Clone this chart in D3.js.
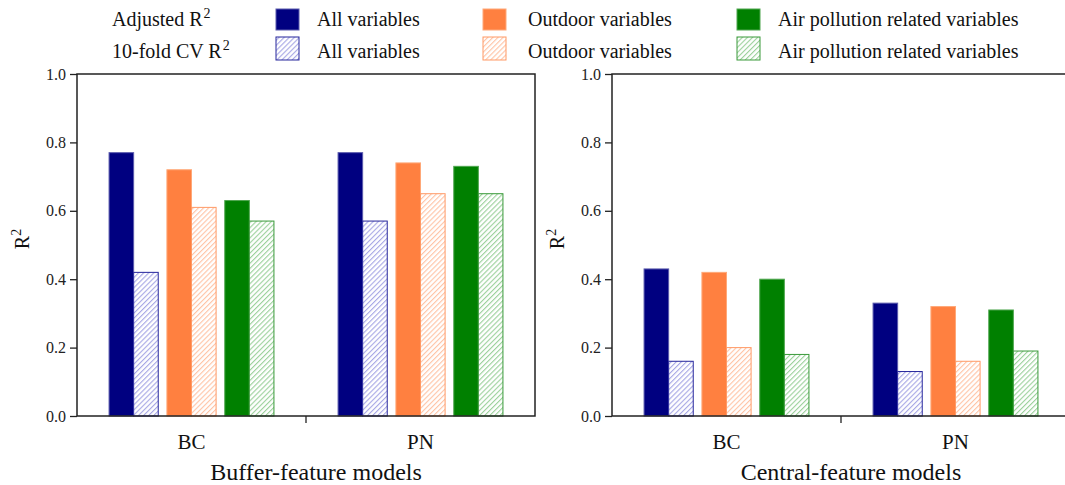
<!DOCTYPE html>
<html>
<head>
<meta charset="utf-8">
<script src="https://cdn.jsdelivr.net/npm/d3@7"></script>
<style>
  body { margin: 0; background: #fff; }
  svg text { font-family: "Liberation Serif", "Times New Roman", serif !important; }
</style>
</head>
<body>
<div id="root"></div>
<script>
const categories = ["BC", "PN"];
const seriesNames = ["All variables", "Outdoor variables", "Air pollution related variables"];
const yTicks = [0, 0.2, 0.4, 0.6, 0.8, 1.0];

// one row per category (BC, PN), values in series order
const bufferAdjusted = [[0.77, 0.72, 0.63], [0.77, 0.74, 0.73]];
const bufferCV = [[0.42, 0.61, 0.57], [0.57, 0.65, 0.65]];
const centralAdjusted = [[0.43, 0.42, 0.40], [0.33, 0.32, 0.31]];
const centralCV = [[0.16, 0.20, 0.18], [0.13, 0.16, 0.19]];

const solidColors = ["#000080", "#ff8040", "#008000"];
const solidStroke = ["#5a5aad", "#ffa878", "#4fa64f"];
const hatchColors = ["#9c9ce2", "#ffbc9a", "#8fcc8f"];
const hatchStroke = ["#26269c", "#ff9a66", "#3a9a3a"];

const serif = "'Liberation Serif', 'Times New Roman', serif";

const width = 1065,
  height = 485;

const svg = d3
  .select("#root")
  .append("svg")
  .attr("width", width)
  .attr("height", height)
  .attr("font-family", serif)
  .attr("viewBox", [0, 0, width, height])
  .style("display", "block");

// hatch patterns "///"
const defs = svg.append("defs");
hatchColors.forEach((c, i) => {
  const p = defs
    .append("pattern")
    .attr("id", `hatch-${i}`)
    .attr("patternUnits", "userSpaceOnUse")
    .attr("width", 3.6)
    .attr("height", 3.6)
    .attr("patternTransform", "rotate(45)");
  p.append("rect").attr("width", 3.6).attr("height", 3.6).attr("fill", "#fff");
  p.append("line")
    .attr("x1", 0.6)
    .attr("y1", 0)
    .attr("x2", 0.6)
    .attr("y2", 3.6)
    .attr("stroke", c)
    .attr("stroke-width", 1);
});

function drawPanel(left, title, adjusted, cv) {
  const top = 74,
    plotW = 458,
    plotH = 342;

  const x = d3
    .scaleBand()
    .domain(categories)
    .range([0, plotW])
    .paddingInner(0.28)
    .paddingOuter(0.14);
  const xs = d3
    .scaleBand()
    .domain(d3.range(seriesNames.length))
    .range([0, x.bandwidth()])
    .paddingInner(0.15)
    .paddingOuter(0);
  const y = d3.scaleLinear().domain([0, 1]).range([plotH, 0]);

  const g = svg.append("g").attr("transform", `translate(${left}, ${top})`);

  const rows = [];
  categories.forEach((cat, ci) => {
    seriesNames.forEach((s, si) => {
      rows.push({ cat, si, adj: adjusted[ci][si], cv: cv[ci][si] });
    });
  });
  const half = xs.bandwidth() / 2;

  g.append("g")
    .selectAll("rect")
    .data(rows)
    .join("rect")
    .attr("x", (d) => x(d.cat) + xs(d.si))
    .attr("y", (d) => y(d.adj))
    .attr("width", half)
    .attr("height", (d) => y(0) - y(d.adj))
    .attr("fill", (d) => solidColors[d.si])
    .attr("stroke", (d) => solidStroke[d.si])
    .attr("stroke-width", 1);

  g.append("g")
    .selectAll("rect")
    .data(rows)
    .join("rect")
    .attr("x", (d) => x(d.cat) + xs(d.si) + half)
    .attr("y", (d) => y(d.cv))
    .attr("width", half)
    .attr("height", (d) => y(0) - y(d.cv))
    .attr("fill", (d) => `url(#hatch-${d.si})`)
    .attr("stroke", (d) => hatchStroke[d.si])
    .attr("stroke-width", 1);

  // y axis
  const yAxis = d3
    .axisLeft(y)
    .tickValues(yTicks)
    .tickFormat(d3.format(".1f"))
    .tickSize(7)
    .tickPadding(4);
  const ya = g.append("g").call(yAxis).attr("font-family", serif).attr("font-size", 16);
  ya.select(".domain").remove();
  ya.selectAll(".tick line").attr("stroke", "#222").attr("stroke-width", 1.3);
  ya.selectAll(".tick text").attr("fill", "#222");

  // x axis: labels only, the tick sits between categories
  const xAxis = d3.axisBottom(x).tickSize(0).tickPadding(18);
  const xa = g
    .append("g")
    .attr("transform", `translate(0, ${plotH})`)
    .call(xAxis)
    .attr("font-family", serif)
    .attr("font-size", 21);
  xa.select(".domain").remove();
  xa.selectAll(".tick text").attr("fill", "#111");

  const mid = (x(categories[0]) + x.bandwidth() + x(categories[1])) / 2;
  g.append("line")
    .attr("x1", mid)
    .attr("x2", mid)
    .attr("y1", plotH)
    .attr("y2", plotH + 7)
    .attr("stroke", "#222")
    .attr("stroke-width", 1.3);

  // frame
  g.append("rect")
    .attr("width", plotW)
    .attr("height", plotH)
    .attr("fill", "none")
    .attr("stroke", "#222")
    .attr("stroke-width", 1.5);

  // y title R²
  const yt = g
    .append("text")
    .attr("transform", `translate(-48, ${plotH / 2 - 6}) rotate(-90)`)
    .attr("text-anchor", "middle")
    .attr("fill", "#111")
    .attr("font-size", 20);
  yt.append("tspan").text("R");
  yt.append("tspan").attr("dy", -8).attr("font-size", 14).text("2");

  g.append("text")
    .attr("x", plotW / 2 + 10)
    .attr("y", plotH + 64)
    .attr("text-anchor", "middle")
    .attr("fill", "#111")
    .attr("font-size", 24)
    .text(title);
}

drawPanel(77, "Buffer-feature models", bufferAdjusted, bufferCV);
drawPanel(612, "Central-feature models", centralAdjusted, centralCV);

// legend
const legend = svg.append("g").attr("font-size", 20).attr("fill", "#111");
const rowLabels = ["Adjusted R", "10-fold CV R"];
const rowBase = [26, 58];
rowLabels.forEach((t, r) => {
  const txt = legend.append("text").attr("x", 112).attr("y", rowBase[r]);
  txt.append("tspan").text(t);
  txt.append("tspan").attr("dx", 1).attr("dy", -8).attr("font-size", 14).text("2");
});
const swatchX = [276, 483, 737];
const labelX = [317, 528, 778];
seriesNames.forEach((s, i) => {
  legend.append("rect")
    .attr("x", swatchX[i])
    .attr("y", 9)
    .attr("width", 23)
    .attr("height", 21)
    .attr("fill", solidColors[i])
    .attr("stroke", solidStroke[i]);
  legend.append("rect")
    .attr("x", swatchX[i])
    .attr("y", 37)
    .attr("width", 23)
    .attr("height", 23)
    .attr("fill", `url(#hatch-${i})`)
    .attr("stroke", hatchStroke[i]);
  rowBase.forEach((b) => {
    legend.append("text").attr("x", labelX[i]).attr("y", b).text(s);
  });
});
</script>
</body>
</html>
